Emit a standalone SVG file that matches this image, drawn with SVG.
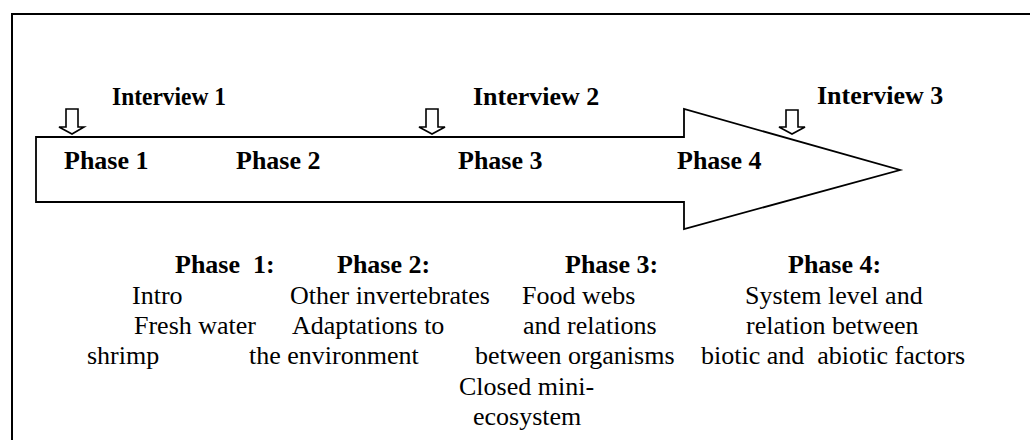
<svg xmlns="http://www.w3.org/2000/svg" width="1030" height="440" viewBox="0 0 1030 440">
<style>
  text { font-family: 'Liberation Serif', Tinos, 'Times New Roman', Times, 'DejaVu Serif', serif; font-size: 26px; fill: #000; white-space: pre; }
  .b { font-weight: bold; }
  .ln { fill: none; stroke: #000; stroke-width: 2; }
  .shape { fill: #fff; stroke: #000; stroke-width: 1.8; stroke-linejoin: miter; }
  .mark { fill: #fff; stroke: #000; stroke-width: 1.6; stroke-linejoin: miter; }
</style>
<rect width="1030" height="440" fill="#fff"/>
<g id="frame">
  <path class="ln" d="M12,440 V14 H1030"/>
</g>
<g id="timeline-arrow" font-family="Liberation Serif, serif">
  <path class="shape" d="M36,137 H684 V109 L900,170 L684,229 V202 H36 Z"/>
  <text class="b" x="64" y="169">Phase 1</text>
  <text class="b" x="236" y="169">Phase 2</text>
  <text class="b" x="458" y="169">Phase 3</text>
  <text class="b" x="677" y="169">Phase 4</text>
</g>
<g id="connectors">
  <path class="mark" d="M66,109 H78 V127 H84 L72,134 L59,127 H66 Z"/>
  <path class="mark" d="M426,109 H438 V127 H445 L432,134 L419,127 H426 Z"/>
  <path class="mark" d="M786,110 H798 V127 H805 L792,134 L779,127 H786 Z"/>
</g>
<g id="interview-1">
  <text class="b" x="112" y="105" textLength="114" lengthAdjust="spacingAndGlyphs">Interview 1</text>
</g>
<g id="interview-2">
  <text class="b" x="473" y="105">Interview 2</text>
</g>
<g id="interview-3">
  <text class="b" x="817" y="104">Interview 3</text>
</g>
<g id="phase-1-desc">
  <text class="b" x="175" y="273">Phase  1:</text>
  <text x="132" y="304">Intro</text>
  <text x="134" y="334">Fresh water</text>
  <text x="87" y="364">shrimp</text>
</g>
<g id="phase-2-desc">
  <text class="b" x="337" y="273">Phase 2:</text>
  <text x="290" y="304">Other invertebrates</text>
  <text x="292" y="334">Adaptations to</text>
  <text x="249" y="364">the environment</text>
</g>
<g id="phase-3-desc">
  <text class="b" x="565" y="273">Phase 3:</text>
  <text x="522" y="304">Food webs</text>
  <text x="523" y="334">and relations</text>
  <text x="475" y="364">between organisms</text>
  <text x="459" y="395">Closed mini-</text>
  <text x="473" y="425">ecosystem</text>
</g>
<g id="phase-4-desc">
  <text class="b" x="788" y="273">Phase 4:</text>
  <text x="745" y="304">System level and</text>
  <text x="746" y="334">relation between</text>
  <text x="701" y="364">biotic and  abiotic factors</text>
</g>
</svg>
